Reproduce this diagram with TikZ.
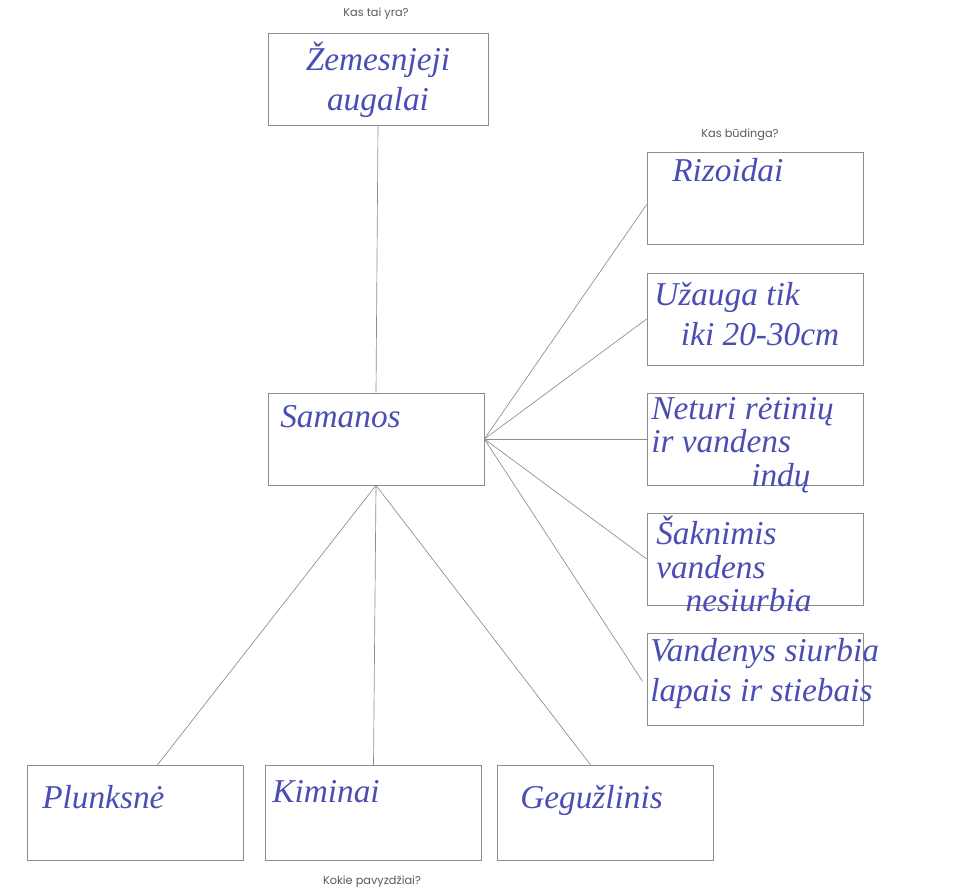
\documentclass[tikz,border=0pt]{standalone}
\usepackage{fontspec}
\setmainfont{Liberation Serif}
\newfontfamily\labelfont{Poppins}
\usetikzlibrary{calc}
\definecolor{ink}{HTML}{4A4EB3}
\definecolor{frame}{HTML}{8C8C8C}
\definecolor{lbl}{HTML}{5A5A5A}
\begin{document}
\begin{tikzpicture}[x=0.75pt,y=-0.75pt,
  box/.style={draw=frame, line width=0.5pt, inner sep=0pt, minimum width=162pt, minimum height=69pt},
  lowbox/.style={box, minimum height=71pt},
  hand/.style={text=ink, inner sep=0pt, align=left, font=\itshape\fontsize{25}{25}\selectfont},
  loose/.style={font=\itshape\fontsize{25}{30}\selectfont},
  qlabel/.style={text=lbl, inner sep=0pt, font=\labelfont\fontsize{8.5}{10}\selectfont},
  link/.style={draw=frame, line width=0.5pt}]
\useasboundingbox (0,0) rectangle (962,891);
% question labels
\node[qlabel] (q1) at (376,14) {Kas tai yra?};
\node[qlabel] (q2) at (740,135) {Kas būdinga?};
\node[qlabel] (q3) at (372,882) {Kokie pavyzdžiai?};
% boxes
\node[box, minimum width=165pt] (top) at (378,79) {};
\node[box] (sam) at (376,439) {};
\node[box] (riz) at (755,198.5) {};
\node[box] (uza) at (755,319) {};
\node[box] (net) at (755,439) {};
\node[box] (sak) at (755,559) {};
\node[box] (van) at (755,679.5) {};
\node[lowbox] (plu) at (135.5,812.5) {};
\node[lowbox] (kim) at (373.5,812.5) {};
\node[lowbox] (geg) at (605.5,812.5) {};
% connectors
\draw[link] (top.south) -- (sam.north);
\draw[link] (sam.east) -- ($(riz.west)+(0,6)$);
\draw[link] (sam.east) -- (uza.west);
\draw[link] (sam.east) -- (net.west);
\draw[link] (sam.east) -- (sak.west);
\draw[link] (sam.east) -- ($(van.west)+(-4,2)$);
\draw[link] (sam.south) -- ($(plu.north)+(22,0)$);
\draw[link] (sam.south) -- (kim.north);
\draw[link] (sam.south) -- ($(geg.north)+(-15,0)$);
% handwritten texts
\node[hand, loose, align=center, anchor=north] (ttop) at (378,42) {Žemesnjeji\\ augalai};
\node[hand, anchor=north west] (tsam) at (280,405) {Samanos};
\node[hand, anchor=north west] (triz) at (672,158) {Rizoidai};
\node[hand, loose, anchor=north west] (tuza) at (654,282) {Užauga tik\\\hspace*{20pt}iki 20-30cm};
\node[hand, anchor=north west] (tnet) at (651,397) {Neturi rėtinių\\ir vandens\\\hspace*{75pt}indų};
\node[hand, anchor=north west] (tsak) at (656,516) {Šaknimis\\vandens\\\hspace*{22pt}nesiurbia};
\node[hand, loose, anchor=north west] (tvan) at (650,638) {Vandenys siurbia\\lapais ir stiebais};
\node[hand, anchor=north west] (tplu) at (42,785) {Plunksnė};
\node[hand, anchor=north west] (tkim) at (272,780) {Kiminai};
\node[hand, anchor=north west] (tgeg) at (520,785) {Gegužlinis};
\end{tikzpicture}
\end{document}
